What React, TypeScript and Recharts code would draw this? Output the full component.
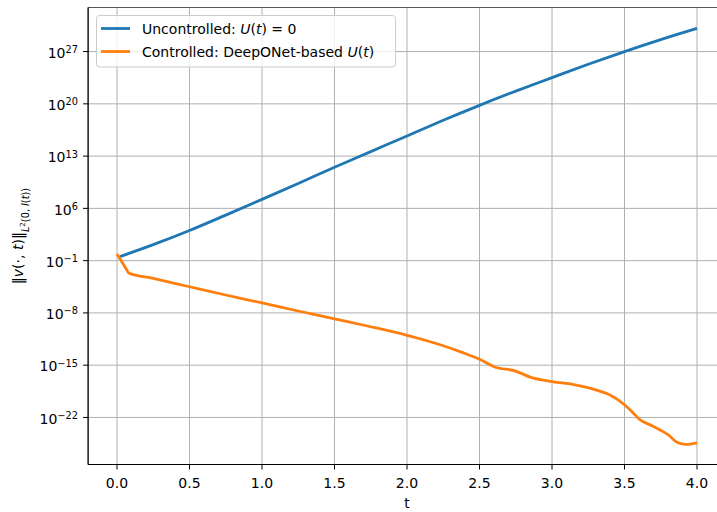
import React from 'react';
import { LineChart, Line, XAxis, YAxis, CartesianGrid, ReferenceArea, Legend } from 'recharts';

// Uncontrolled: U(t) = 0
const uncontrolledT = [0.02, 0.25, 0.5, 0.75, 1.0, 1.25, 1.5, 1.75, 2.0, 2.25, 2.5, 2.75, 3.0, 3.25, 3.5, 3.75, 4.0];
const uncontrolledNorm = [3.5e-1, 1.4e1, 1.1e3, 1.26e5, 1.6e7, 2.2e9, 3.2e11, 4e13, 5e15, 6.3e17, 6.3e19, 5e21, 3.2e23, 2e25, 1e27, 4e28, 1.26e30];

// Controlled: DeepONet-based U(t)
const controlledT = [0.0, 0.07, 0.08, 0.25, 0.5, 0.75, 1.0, 1.25, 1.5, 1.75, 2.0, 2.125, 2.25, 2.375, 2.5, 2.6, 2.75, 2.85, 3.0, 3.15, 3.3, 3.4, 3.5, 3.55, 3.6, 3.7, 3.8, 3.87, 3.92, 4.0];
const controlledNorm = [8e-1, 4.7e-3, 2.2e-3, 4.2e-4, 3.2e-5, 2.5e-6, 2.2e-7, 1.8e-8, 1.6e-9, 1.4e-10, 1e-11, 2.2e-12, 4e-13, 5.6e-14, 6.3e-15, 6.3e-16, 1.6e-16, 2.5e-17, 6.3e-18, 2.5e-18, 5e-19, 1e-19, 5e-21, 6.3e-22, 6.3e-23, 6.3e-24, 5e-25, 4e-26, 2.5e-26, 4e-26];

const xTicks = [0, 0.5, 1.0, 1.5, 2.0, 2.5, 3.0, 3.5, 4.0];
const yTicks = [1e-22, 1e-15, 1e-8, 1e-1, 1e6, 1e13, 1e20, 1e27];

const BLUE = '#1f77b4';
const ORANGE = '#ff7f0e';
const FONT = 'DejaVu Sans';

const uncontrolledData = uncontrolledT.map((t, i) => ({ t, v: uncontrolledNorm[i] }));
const controlledData = controlledT.map((t, i) => ({ t, v: controlledNorm[i] }));

const Y_LO = Math.pow(10, -28.3);
const Y_HI = Math.pow(10, 32.9);

const XTick = (props: any) => {
  const { x, y, payload } = props;
  return (
    <text x={x} y={y} dy={14.5} textAnchor="middle" fontFamily={FONT} fontSize={14} fill="#000">
      {Number(payload.value).toFixed(1)}
    </text>
  );
};

const YTick = (props: any) => {
  const { x, y, payload } = props;
  const e = Math.round(Math.log10(payload.value));
  const es = e < 0 ? '\u2212' + Math.abs(e) : String(e);
  return (
    <text x={x} y={y} dy={6.3} textAnchor="end" fontFamily={FONT} fontSize={14} fill="#000">
      10<tspan dy={-4.8} fontSize={9.8}>{es}</tspan>
    </text>
  );
};

const XLabel = (props: any) => {
  const vb = props.viewBox || { x: 88, y: 464.5, width: 638, height: 47.5 };
  return (
    <text x={vb.x + vb.width / 2} y={vb.y + 43.5} textAnchor="middle" fontFamily={FONT} fontSize={14} fill="#000">
      t
    </text>
  );
};

const YLabel = (props: any) => {
  const vb = props.viewBox || { x: 0, y: 7.5, width: 88, height: 457 };
  const cy = vb.y + vb.height / 2;
  return (
    <text transform={`translate(22.5, ${cy}) rotate(-90)`} textAnchor="middle" fontFamily={FONT} fontSize={14} fill="#000">
      <tspan>{'\u2016'}</tspan>
      <tspan fontStyle="italic">v</tspan>
      <tspan>{'(\u00b7, '}</tspan>
      <tspan fontStyle="italic">t</tspan>
      <tspan>{')\u2016'}</tspan>
      <tspan fontSize={9.8} dy={6} fontStyle="italic">L</tspan>
      <tspan fontSize={7} dy={-4}>2</tspan>
      <tspan fontSize={9.8} dy={4}>{'(0, '}</tspan>
      <tspan fontSize={9.8} fontStyle="italic">l</tspan>
      <tspan fontSize={9.8}>(</tspan>
      <tspan fontSize={9.8} fontStyle="italic">t</tspan>
      <tspan fontSize={9.8}>))</tspan>
    </text>
  );
};

const LegendBox = () => (
  <svg width={301} height={53} style={{ display: 'block', overflow: 'visible' }}>
    <rect x={0.5} y={0.5} width={299} height={51.5} rx={3} ry={3} fill="#ffffff" fillOpacity={0.8} stroke="#cccccc" strokeWidth={1} />
    <line x1={5} x2={34} y1={13.5} y2={13.5} stroke={BLUE} strokeWidth={2.8} />
    <text x={46} y={18.5} fontFamily={FONT} fontSize={14} fill="#000">
      {'Uncontrolled: '}
      <tspan fontStyle="italic">U</tspan>(<tspan fontStyle="italic">t</tspan>){' = 0'}
    </text>
    <line x1={5} x2={34} y1={36.5} y2={36.5} stroke={ORANGE} strokeWidth={2.8} />
    <text x={46} y={41.5} fontFamily={FONT} fontSize={14} fill="#000">
      {'Controlled: DeepONet-based '}
      <tspan fontStyle="italic">U</tspan>(<tspan fontStyle="italic">t</tspan>)
    </text>
  </svg>
);

export default function App() {
  return (
    <div style={{ position: 'absolute', left: 0, top: 0, width: 717, height: 512, overflow: 'hidden', background: '#fff' }}>
      <LineChart width={740} height={512} margin={{ top: 7.5, right: 14, bottom: 0, left: 0 }}>
        <CartesianGrid stroke="#b0b0b0" strokeWidth={1} />
        <XAxis
          dataKey="t"
          type="number"
          domain={[-0.2, 4.2]}
          allowDataOverflow
          ticks={xTicks}
          height={47.5}
          tickSize={5}
          tickMargin={4}
          tick={<XTick />}
          axisLine={{ stroke: '#000', strokeWidth: 1 }}
          tickLine={{ stroke: '#000', strokeWidth: 1 }}
          label={<XLabel />}
        />
        <YAxis
          type="number"
          scale="log"
          domain={[Y_LO, Y_HI]}
          allowDataOverflow
          ticks={yTicks}
          width={88}
          tickSize={5}
          tickMargin={5}
          tick={<YTick />}
          axisLine={{ stroke: '#000', strokeWidth: 1 }}
          tickLine={{ stroke: '#000', strokeWidth: 1 }}
          label={<YLabel />}
        />
        <ReferenceArea x1={-0.2} x2={4.2} y1={Y_LO} y2={Y_HI} fill="none" fillOpacity={0} stroke="#000" strokeWidth={1} ifOverflow="hidden" />
        <Line data={uncontrolledData} dataKey="v" name="Uncontrolled: U(t) = 0" stroke={BLUE} strokeWidth={2.8} dot={false} type="monotone" isAnimationActive={false} />
        <Line data={controlledData} dataKey="v" name="Controlled: DeepONet-based U(t)" stroke={ORANGE} strokeWidth={2.8} dot={false} type="monotone" isAnimationActive={false} />
        <Legend
          layout="vertical"
          align="center"
          verticalAlign="middle"
          content={<LegendBox />}
          wrapperStyle={{ position: 'absolute', left: 95.5, top: 14.5, width: 301, height: 53, bottom: 'auto', right: 'auto', margin: 0 }}
        />
      </LineChart>
    </div>
  );
}
